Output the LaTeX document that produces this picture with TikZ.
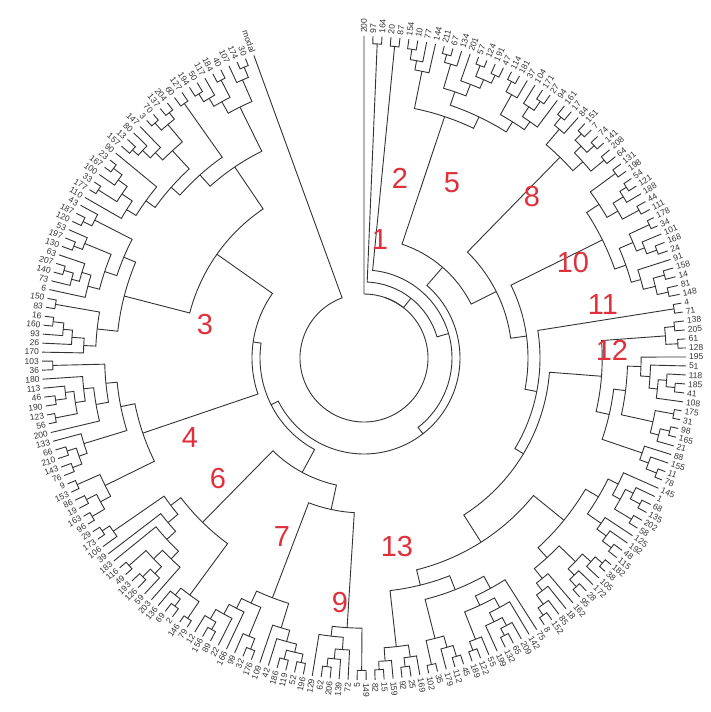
\documentclass[tikz,border=0pt]{standalone}
\usepackage{fontspec}
\setmainfont{Liberation Sans}
\usepackage{xcolor}
\usepackage{tikz}
\definecolor{treegray}{HTML}{333333}
\definecolor{clusterred}{HTML}{E0303C}

\def\dang{1.6038}
\def\Rleaf{322}

\newcommand\DrawNode[5]{%
  \pgfmathsetmacro\angA{90-#2*\dang}%
  \pgfmathsetmacro\angB{90-#4*\dang}%
  \draw[twig] (\angA:#3) -- (\angA:#1)
    arc[start angle=\angA, end angle=\angB, radius=#1] -- (\angB:#5);}

\newcommand\Leaf[1]{\xdef\retpos{#1}\xdef\retrad{\Rleaf}}

\newcommand\CladeSplit{%
  \pgfmathtruncatemacro\cn{\cj-\ci+1}%
  \pgfmathtruncatemacro\cm{\ci+max(0,min(\cn-2,round(\cn*(0.1+0.8*rnd))-1))}%
  \pgfmathtruncatemacro\cmp{\cm+1}%
  \Clade{\ci}{\cm}\edef\lp{\retpos}\edef\lr{\retrad}%
  \Clade{\cmp}{\cj}\edef\rp{\retpos}\edef\rr{\retrad}%
  \pgfmathsetmacro\crad{min(\lr,\rr)-(5+4*rnd+1.5*sqrt(\cn))}%
  \DrawNode{\crad}{\lp}{\lr}{\rp}{\rr}%
  \pgfmathsetmacro\cp{(\lp+\rp)/2}%
  \xdef\retpos{\cp}\xdef\retrad{\crad}}

\newcommand\Clade[2]{%
  \begingroup
  \edef\ci{\number#1}\edef\cj{\number#2}%
  \ifnum\ci=\cj\relax
    \xdef\retpos{\ci}\xdef\retrad{\Rleaf}%
  \else
    \CladeSplit
  \fi
  \endgroup}

\newcommand\Bjoin[3]{%
  \begingroup
  #2\edef\lp{\retpos}\edef\lr{\retrad}%
  #3\edef\rp{\retpos}\edef\rr{\retrad}%
  \DrawNode{#1}{\lp}{\lr}{\rp}{\rr}%
  \pgfmathsetmacro\cp{(\lp+\rp)/2}%
  \xdef\retpos{\cp}\xdef\retrad{#1}%
  \endgroup}

\begin{document}
\begin{tikzpicture}[x=1pt, y=1pt,
        twig/.style={draw=treegray, line width=0.9pt},
        leaflab/.style={font=\fontsize{8.5}{8.5}\selectfont, inner sep=0pt,
                text=treegray},
        clab/.style={font=\fontsize{29}{29}\selectfont, text=clusterred,
                inner sep=0pt},
    ]
    \useasboundingbox (-364,-354) rectangle (346,358);
    \pgfmathsetseed{7}

    \Bjoin{64}
      {\Bjoin{64}{\Leaf{0}}
        {\Bjoin{76}{\Clade{1}{2}}
          {\Bjoin{88}{\Clade{3}{4}}
            {\Bjoin{96}
              {\Bjoin{120}{\Clade{5}{23}}
                {\Bjoin{148}{\Clade{24}{32}}
                  {\Bjoin{164}{\Clade{33}{49}}
                    {\Bjoin{176}{\Clade{50}{51}}
                      {\Bjoin{186}{\Clade{52}{70}}{\Clade{71}{111}}}}}}}
              {\Bjoin{104}
                {\Bjoin{130}
                  {\Bjoin{155}{\Clade{112}{118}}{\Clade{119}{132}}}
                  {\Clade{133}{148}}}
                {\Bjoin{112}{\Clade{149}{168}}
                  {\Bjoin{180}{\Clade{169}{186}}{\Clade{187}{211}}}}}}}}}
      {\Leaf{212}}

    \foreach \kk in {0,...,212} {
        \pgfmathsetmacro\lang{90-\kk*\dang}
        \pgfmathtruncatemacro\ltxt{mod(\kk*67+29,211)+1}
        \pgfmathtruncatemacro\lside{cos(\lang)>=0 ? 1 : 0}
        \ifnum\kk=0 \def\ltxt{200}\fi
        \ifnum\kk=212 \def\ltxt{modal}\fi
        \ifnum\lside=1
            \node[leaflab, anchor=west, rotate=\lang] (lf\kk) at (\lang:325) {\ltxt};
        \else
            \pgfmathsetmacro\lbng{\lang+180}
            \node[leaflab, anchor=east, rotate=\lbng] (lf\kk) at (\lang:325) {\ltxt};
        \fi
    }

    \node[clab] (cl1) at (16,118) {1};
    \node[clab] (cl2) at (36,180) {2};
    \node[clab] (cl3) at (-159,33) {3};
    \node[clab] (cl4) at (-174,-80) {4};
    \node[clab] (cl5) at (88,175) {5};
    \node[clab] (cl6) at (-146,-121) {6};
    \node[clab] (cl7) at (-82,-179) {7};
    \node[clab] (cl8) at (168,161) {8};
    \node[clab] (cl9) at (-24,-245) {9};
    \node[clab] (cl10) at (209,95) {10};
    \node[clab] (cl11) at (239,53) {11};
    \node[clab] (cl12) at (248,8) {12};
    \node[clab] (cl13) at (33,-189) {13};
\end{tikzpicture}
\end{document}
